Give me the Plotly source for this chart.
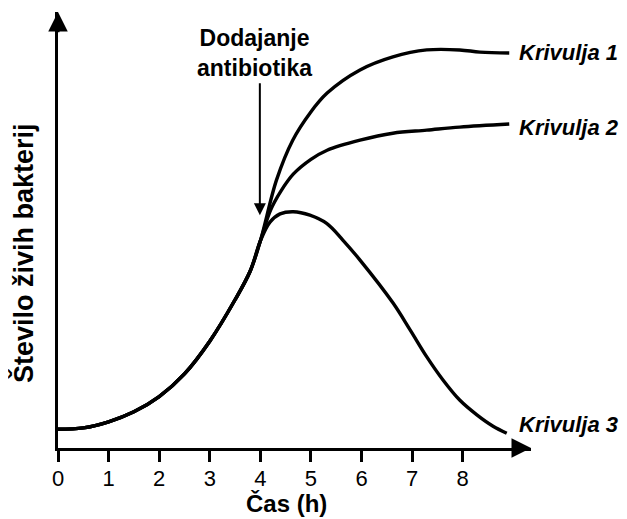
import plotly.graph_objects as go

# Shared growth phase (before antibiotic), time in h, value in arbitrary units
t_common = [0, 0.5, 1, 1.5, 2, 2.5, 3.0, 3.5, 3.8, 4.0]
n_common = [4.3, 4.6, 6.0, 8.3, 11.8, 17.0, 24.5, 34.0, 40.6, 47.5]

# Branches after antibiotic
t_k1 = [4.32, 4.64, 4.98, 5.32, 5.97, 6.62, 7.29, 7.94, 8.34, 8.92]
n_k1 = [61.5, 70.6, 76.8, 81.4, 86.7, 89.7, 91.3, 91.3, 90.8, 90.6]

t_k2 = [4.2, 4.4, 4.65, 5.0, 5.32, 5.97, 6.62, 7.29, 7.94, 8.92]
n_k2 = [54.5, 58.8, 62.8, 66.2, 68.3, 70.6, 72.2, 72.9, 73.6, 74.3]

t_k3 = [4.19, 4.39, 4.65, 4.98, 5.31, 5.63, 5.97, 6.62, 6.96, 7.29, 7.61, 7.94, 8.28, 8.6, 8.87]
n_k3 = [51.8, 53.7, 54.2, 53.4, 51.5, 47.7, 43.1, 33.3, 27.1, 20.9, 15.6, 11.0, 7.6, 5.0, 3.4]

curve_names = ["Krivulja 1", "Krivulja 2", "Krivulja 3"]
x_ticks = [0, 1, 2, 3, 4, 5, 6, 7, 8]
x_title = "Čas (h)"
y_title = "Število živih bakterij"
note_lines = ["Dodajanje", "antibiotika"]

FONT = "Arial, Liberation Sans, sans-serif"

fig = go.Figure()
for tb, nb, name in [(t_k1, n_k1, curve_names[0]), (t_k2, n_k2, curve_names[1]), (t_k3, n_k3, curve_names[2])]:
    fig.add_trace(go.Scatter(
        x=t_common + tb, y=n_common + nb, mode="lines", name=name,
        line=dict(color="black", width=3.4, shape="spline", smoothing=1.0),
        showlegend=False, hoverinfo="skip"))

X_MAX = 9.35
Y_MAX = 100

fig.update_layout(
    width=619, height=511,
    margin=dict(l=50, r=96, t=4, b=71),
    paper_bgcolor="white", plot_bgcolor="white",
    font=dict(family=FONT, color="black", size=20),
    xaxis=dict(range=[0, X_MAX], showgrid=False, zeroline=False,
               showline=True, linewidth=3, linecolor="black",
               ticks="outside", ticklen=11, tickwidth=3, tickcolor="black",
               tickvals=x_ticks, ticktext=[str(v) for v in x_ticks],
               ticklabelstandoff=-2,
               tickfont=dict(size=22, family=FONT, color="black")),
    yaxis=dict(range=[0, Y_MAX], showgrid=False, zeroline=False,
               showline=True, linewidth=3, linecolor="black",
               showticklabels=False, ticks=""),
)

# axis arrowheads
fig.add_annotation(x=X_MAX, y=0, ax=X_MAX - 0.4, ay=0, xref="x", yref="y",
                   axref="x", ayref="y", showarrow=True, arrowhead=2,
                   arrowsize=1.3, arrowwidth=3, arrowcolor="black", text="")
fig.add_annotation(x=0, y=Y_MAX, ax=0, ay=Y_MAX - 5, xref="x", yref="y",
                   axref="x", ayref="y", showarrow=True, arrowhead=2,
                   arrowsize=1.3, arrowwidth=3, arrowcolor="black", text="")

# antibiotic note
fig.add_annotation(x=3.88, y=90.6, text="<b>" + "<br>".join(note_lines) + "</b>", showarrow=False,
                   font=dict(size=23, family=FONT, color="black"),
                   xanchor="center", yanchor="middle", align="center")
fig.add_annotation(x=3.99, y=53.4, ax=3.99, ay=84.0, xref="x", yref="y",
                   axref="x", ayref="y", showarrow=True, arrowhead=2,
                   arrowsize=1.2, arrowwidth=2, arrowcolor="black", text="")

# curve labels
label_y = [90.6, 73.4, 5.3]
for name, yy in zip(curve_names, label_y):
    fig.add_annotation(x=9.08, y=yy, text="<b><i>" + name + "</i></b>", showarrow=False,
                       xanchor="left", yanchor="middle",
                       font=dict(size=22, family=FONT, color="black"))

# axis titles (paper coordinates so they are not hidden outside the axis range)
fig.add_annotation(x=0.484, y=-0.128, xref="paper", yref="paper",
                   text="<b>" + x_title + "</b>", showarrow=False,
                   xanchor="center", yanchor="middle",
                   font=dict(size=24, family=FONT, color="black"))
fig.add_annotation(x=-0.074, y=0.447, xref="paper", yref="paper",
                   text="<b>" + y_title + "</b>", showarrow=False,
                   textangle=-90, xanchor="center", yanchor="middle",
                   font=dict(size=27, family=FONT, color="black"))

fig.write_html("out.html")
